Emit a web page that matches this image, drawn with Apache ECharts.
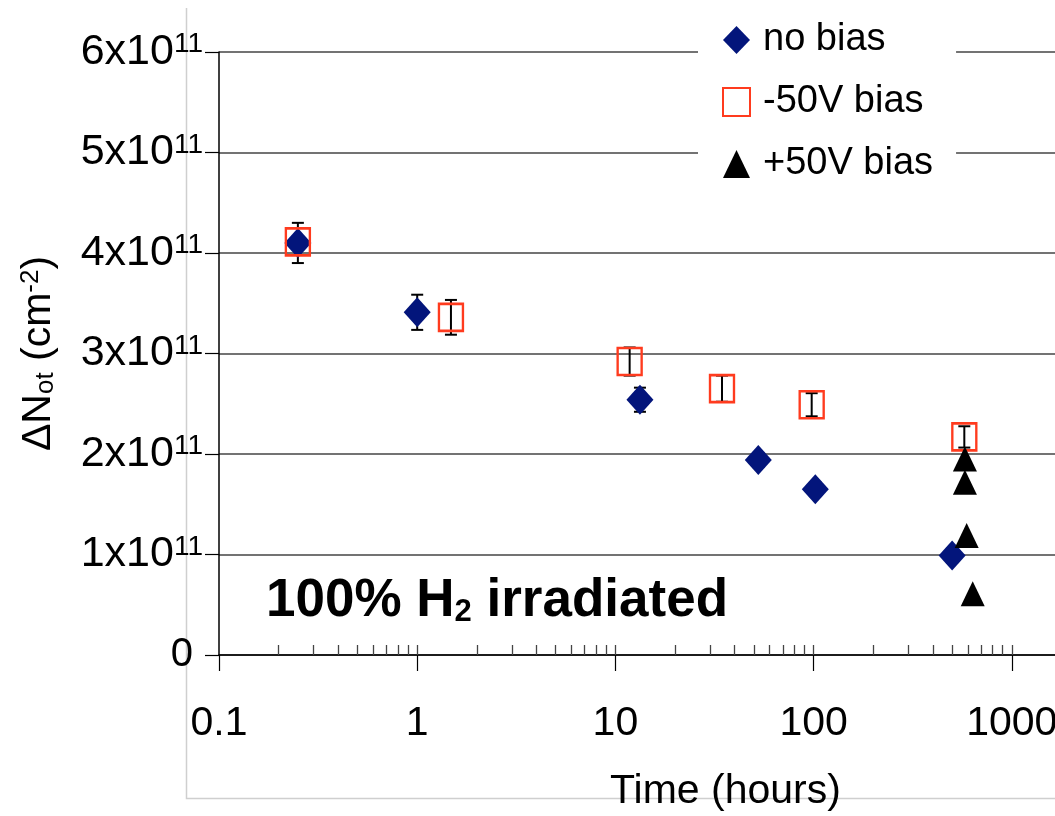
<!DOCTYPE html>
<html>
<head>
<meta charset="utf-8">
<script src="https://cdn.jsdelivr.net/npm/echarts@6/dist/echarts.min.js"></script>
<style>
  html, body { margin: 0; padding: 0; background: #fff; }
  #chart { width: 1055px; height: 816px; }
</style>
</head>
<body>
<div id="chart"></div>
<script>
// time in hours, dN_ot in units of 1e11 cm^-2
const noBiasT = [0.25, 1.0, 13.3, 52.6, 102, 500]
const noBiasN = [4.10, 3.41, 2.54, 1.94, 1.65, 0.99]
const noBiasErr = [0.20, 0.175, 0.12, 0.07, 0.07, 0.07]

const minusT = [0.25, 1.48, 11.8, 34.5, 97.8, 576]
const minusN = [4.11, 3.36, 2.92, 2.65, 2.49, 2.17]
const minusErr = [0, 0.173, 0.14, 0.13, 0.115, 0.106]

const plusT = [580, 580, 592, 635]
const plusN = [1.95, 1.72, 1.19, 0.61]

const xMajorTicks = [0.1, 1, 10, 100, 1000, 10000]
const xMinorTicks = [
  0.2, 0.3, 0.4, 0.5, 0.6, 0.7, 0.8, 0.9, 1,
  2, 3, 4, 5, 6, 7, 8, 9, 10,
  20, 30, 40, 50, 60, 70, 80, 90, 100,
  200, 300, 400, 500, 600, 700, 800, 900, 1000,
  2000, 3000, 4000, 5000, 6000, 7000, 8000, 9000
]

const FONT = "'Liberation Sans', Arial, sans-serif"

const pairs = (xs, ys) => xs.map((x, i) => [x, ys[i]])
const errRows = (xs, ys, es) =>
  xs.map((x, i) => [x, ys[i], es[i]]).filter(r => r[2] > 0)

const errData = errRows(noBiasT, noBiasN, noBiasErr).concat(errRows(minusT, minusN, minusErr))

const chart = echarts.init(document.getElementById('chart'), null, { renderer: 'canvas' })

chart.setOption({
  animation: false,
  backgroundColor: '#fff',
  textStyle: { fontFamily: FONT },
  graphic: [{
    type: 'polyline',
    z: -1,
    shape: { points: [[186.5, 8], [186.5, 798.5], [1060, 798.5]] },
    style: { stroke: '#cfcfcf', lineWidth: 1.5, fill: null }
  }],
  title: {
    left: 261,
    top: 570,
    text: '{b|100% H}{s|2}{b| irradiated}',
    textStyle: {
      rich: {
        b: { fontFamily: FONT, fontSize: 53, fontWeight: 'bold', color: '#000', lineHeight: 53 },
        s: { fontFamily: FONT, fontSize: 31, fontWeight: 'bold', color: '#000', lineHeight: 14, verticalAlign: 'bottom' }
      }
    }
  },
  legend: {
    orient: 'vertical',
    left: 698,
    top: 10,
    padding: [10, 23, 5, 24],
    backgroundColor: '#fff',
    itemWidth: 27,
    itemHeight: 28,
    itemGap: 22,
    textStyle: { fontFamily: FONT, fontSize: 38, lineHeight: 40, color: '#000', padding: [0, 0, 0, 8] },
    data: [
      { name: 'no bias', icon: 'diamond' },
      { name: '-50V bias', icon: 'rect' },
      { name: '+50V bias', icon: 'triangle' }
    ]
  },
  grid: { left: 219, top: 52, width: 991, height: 603, outerBoundsMode: 'none', containLabel: false },
  xAxis: [{
    type: 'log',
    logBase: 10,
    min: 0.1,
    max: 10000,
    axisLine: { show: true, onZero: false, lineStyle: { color: '#000', width: 1.5 } },
    axisTick: { show: true, inside: false, length: 16, lineStyle: { color: '#000', width: 1.2 }, customValues: xMajorTicks },
    axisLabel: {
      customValues: xMajorTicks,
      margin: 48,
      fontFamily: FONT,
      fontSize: 41,
      color: '#000',
      formatter: v => String(Number(Number(v).toPrecision(4)))
    },
    splitLine: { show: false },
    minorTick: { show: false },
    name: 'Time (hours)',
    nameLocation: 'middle',
    nameGap: 116,
    nameTextStyle: { fontFamily: FONT, fontSize: 41, color: '#000', padding: [0, 0, 0, 22] }
  }, {
    type: 'log',
    logBase: 10,
    min: 0.1,
    max: 10000,
    position: 'bottom',
    axisLine: { show: false },
    axisTick: { show: true, inside: true, length: 10, lineStyle: { color: '#444', width: 1.3 }, customValues: xMinorTicks },
    axisLabel: { show: false },
    splitLine: { show: false }
  }],
  yAxis: {
    type: 'value',
    min: 0,
    max: 6,
    interval: 1,
    axisLine: { show: true, lineStyle: { color: '#000', width: 1.5 } },
    axisTick: { show: true, inside: false, length: 14, lineStyle: { color: '#000', width: 1.2 } },
    splitLine: { show: true, lineStyle: { color: '#444', width: 1.5 } },
    axisLabel: {
      margin: 16,
      formatter: v => v === 0 ? '{z|0}' : `{m|${v}x10}{s|11}`,
      rich: {
        m: { fontFamily: FONT, fontSize: 43, color: '#000', lineHeight: 43 },
        s: { fontFamily: FONT, fontSize: 28, color: '#000', lineHeight: 18, verticalAlign: 'top' },
        z: { fontFamily: FONT, fontSize: 40, color: '#000', lineHeight: 43, padding: [0, 10, 0, 0] }
      }
    },
    name: '{m|ΔN}{b|ot}{m| (cm}{t|-2}{m|)}',
    nameLocation: 'middle',
    nameRotate: 90,
    nameGap: 160,
    nameTextStyle: {
      rich: {
        m: { fontFamily: FONT, fontSize: 41, color: '#000', lineHeight: 41 },
        b: { fontFamily: FONT, fontSize: 26, color: '#000', lineHeight: 18, verticalAlign: 'bottom' },
        t: { fontFamily: FONT, fontSize: 26, color: '#000', lineHeight: 26, verticalAlign: 'top' }
      }
    }
  },
  series: [{
    type: 'custom',
    name: 'err',
    z: 1,
    silent: true,
    data: errData,
    encode: { x: 0, y: 1 },
    renderItem(params, api) {
      const x = api.value(0), y = api.value(1), e = api.value(2)
      const top = api.coord([x, y + e])
      const bot = api.coord([x, y - e])
      const w = 6
      const st = { stroke: '#000', lineWidth: 2 }
      return {
        type: 'group',
        children: [
          { type: 'line', shape: { x1: top[0], y1: top[1], x2: bot[0], y2: bot[1] }, style: st },
          { type: 'line', shape: { x1: top[0] - w, y1: top[1], x2: top[0] + w, y2: top[1] }, style: st },
          { type: 'line', shape: { x1: bot[0] - w, y1: bot[1], x2: bot[0] + w, y2: bot[1] }, style: st }
        ]
      }
    }
  }, {
    type: 'scatter',
    name: 'no bias',
    z: 2,
    symbol: 'diamond',
    symbolSize: [27, 30],
    itemStyle: { color: '#03157b', opacity: 1 },
    data: pairs(noBiasT, noBiasN)
  }, {
    type: 'scatter',
    name: '-50V bias',
    z: 3,
    symbol: 'rect',
    symbolSize: [24, 27],
    itemStyle: { color: 'transparent', borderColor: '#ff3b1e', borderWidth: 2.5, opacity: 1 },
    data: pairs(minusT, minusN)
  }, {
    type: 'scatter',
    name: '+50V bias',
    z: 4,
    symbol: 'triangle',
    symbolSize: [24, 25],
    itemStyle: { color: '#000', opacity: 1 },
    data: pairs(plusT, plusN)
  }]
})
</script>
</body>
</html>
